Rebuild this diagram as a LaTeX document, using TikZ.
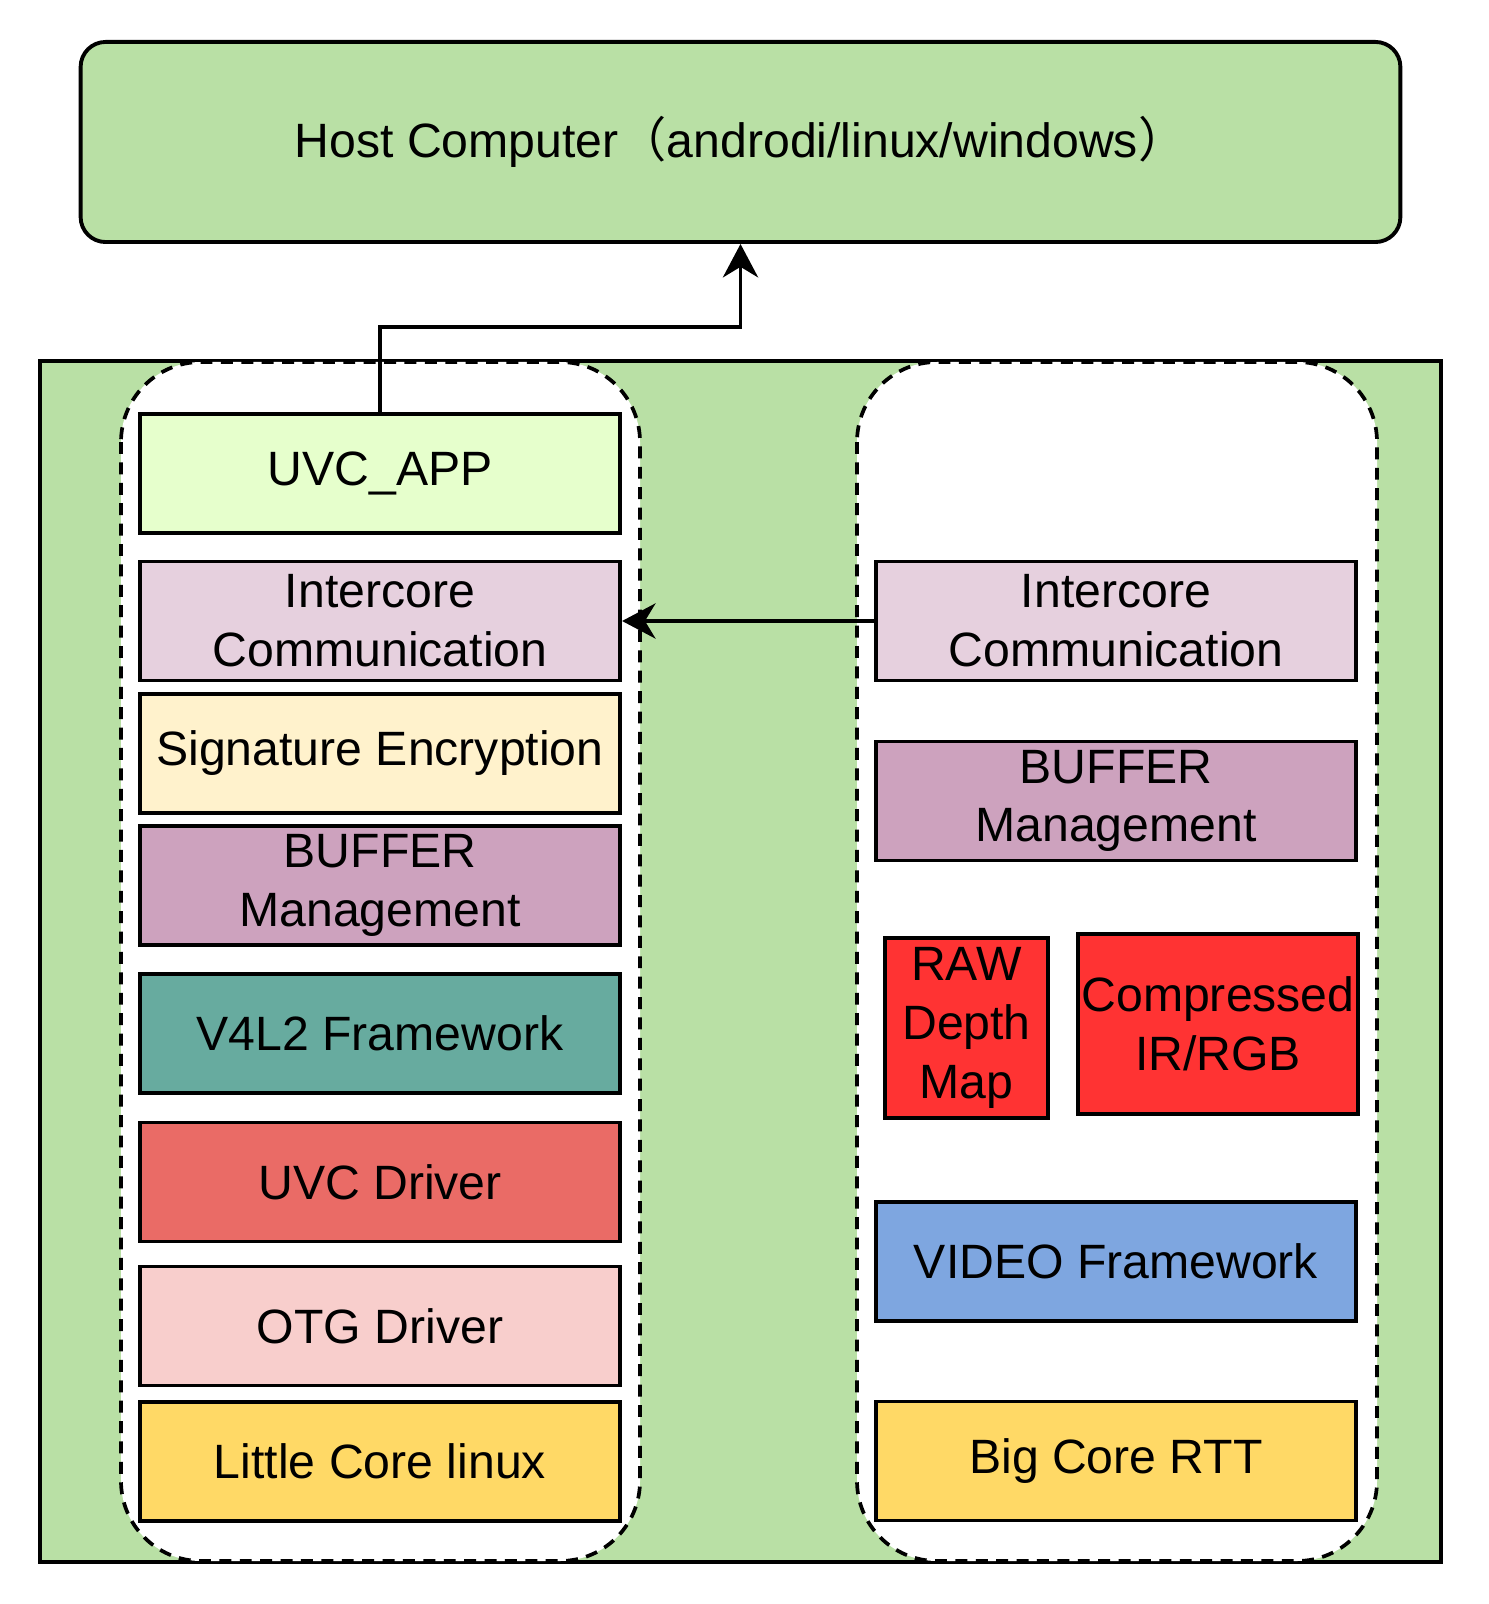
\documentclass[tikz,border=0pt]{standalone}
\usepackage{fontspec}
\setmainfont{Liberation Sans}
\newfontfamily\cjk{Noto Sans CJK SC}
\usetikzlibrary{arrows.meta}
\definecolor{hostgreen}{HTML}{B9E0A5}
\definecolor{appgreen}{HTML}{E6FFCC}
\definecolor{icpink}{HTML}{E6D0DE}
\definecolor{sigyellow}{HTML}{FFF2CC}
\definecolor{bufpurple}{HTML}{CDA2BE}
\definecolor{vteal}{HTML}{67AB9F}
\definecolor{uvcred}{HTML}{EA6B66}
\definecolor{otgpink}{HTML}{F8CECC}
\definecolor{coreyellow}{HTML}{FFD966}
\definecolor{mapred}{HTML}{FF3333}
\definecolor{vidblue}{HTML}{7EA6E0}
\tikzset{
	layer/.style={draw,line width=1.1pt,minimum width=4.8cm,minimum height=1.19cm,align=center,inner sep=1pt},
	core/.style={draw,dash pattern=on 3.4pt off 2.4pt,line width=1.05pt,fill=white,rounded corners=0.8cm},
	arr/.style={-{Stealth[length=9.5pt,width=10pt,inset=3pt]},line width=1.1pt}
}
\begin{document}
\begin{tikzpicture}[x=0.01cm,y=-0.01cm,font=\fontsize{13.7}{16.7}\selectfont]
\useasboundingbox (0,0) rectangle (1488,1604);
% host side
\node[draw,line width=1.1pt,fill=hostgreen,rounded corners=0.25cm,minimum width=13.19cm,minimum height=2cm] (host) at (740.5,142) {Host Computer{\cjk （}androdi/linux/windows{\cjk ）}};
% board with the two cores
\draw[line width=1.1pt,fill=hostgreen] (40,361) rectangle (1441,1562);
\draw[core] (121,362) rectangle (640,1561);
\draw[core] (857,362) rectangle (1377,1561);
% little core stack
\node[layer,fill=appgreen] (app) at (380,473.5) {UVC\_APP};
\node[layer,fill=icpink] (icL) at (380,621) {Intercore\\Communication};
\node[layer,fill=sigyellow] (sig) at (380,753.5) {Signature Encryption};
\node[layer,fill=bufpurple] (bufL) at (380,885.5) {BUFFER\\Management};
\node[layer,fill=vteal] (v4l2) at (380,1033.5) {V4L2 Framework};
\node[layer,fill=uvcred] (uvc) at (380,1182) {UVC Driver};
\node[layer,fill=otgpink] (otg) at (380,1326) {OTG Driver};
\node[layer,fill=coreyellow] (little) at (380,1461.5) {Little Core linux};
% big core stack
\node[layer,fill=icpink] (icR) at (1116,621) {Intercore\\Communication};
\node[layer,fill=bufpurple] (bufR) at (1116,801) {BUFFER\\Management};
\node[layer,fill=mapred,minimum width=1.63cm,minimum height=1.8cm,inner sep=0pt] (raw) at (966.5,1028) {RAW\\Depth\\Map};
\node[layer,fill=mapred,minimum width=2.8cm,minimum height=1.8cm,inner sep=0pt] (comp) at (1218,1024) {Compressed\\IR/RGB};
\node[layer,fill=vidblue] (video) at (1116,1261.5) {VIDEO Framework};
\node[layer,fill=coreyellow] (big) at (1116,1461) {Big Core RTT};
% links
\draw[arr] (app.north) -- ++(0,-85) -| (host.south);
\draw[arr] (icR.west) -- (icL.east);
\end{tikzpicture}
\end{document}
